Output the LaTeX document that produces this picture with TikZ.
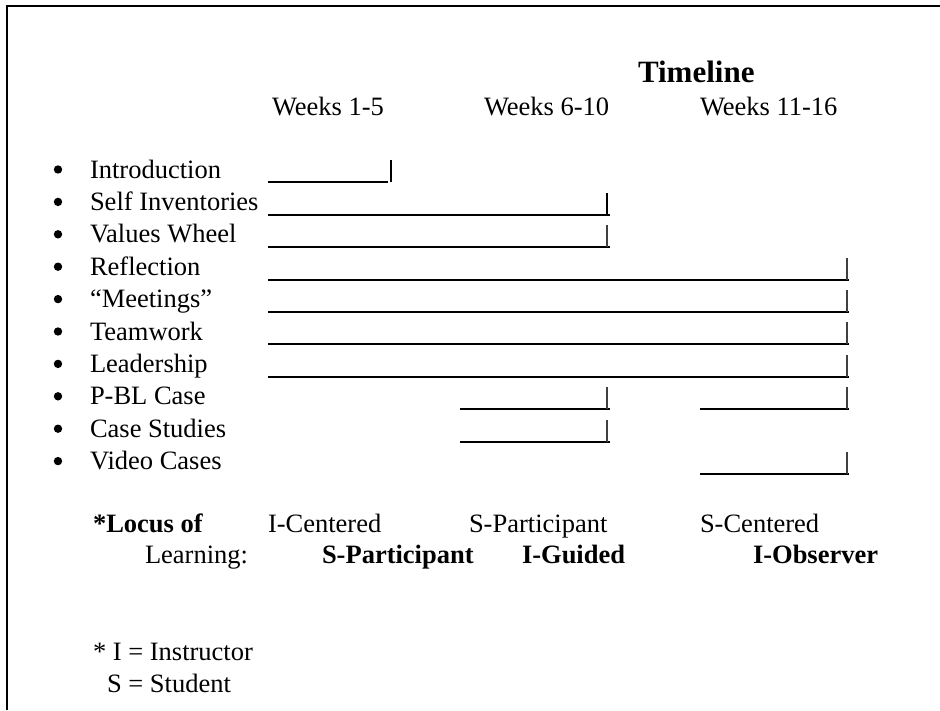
\documentclass[tikz,border=0pt]{standalone}
\usepackage{fontspec}
\setmainfont{Liberation Serif}
\begin{document}
\begin{tikzpicture}[x=1pt,y=-1pt,
  txt/.style={anchor=base west,inner sep=0pt,outer sep=0pt,font=\fontsize{26.5}{30}\selectfont},
  btxt/.style={txt,font=\fontsize{26.5}{30}\selectfont\bfseries},
  ttl/.style={txt,font=\fontsize{31}{36}\selectfont\bfseries},
  bar/.style={line width=2pt},
  thickbar/.style={line width=2pt,black},
  thinbar/.style={line width=1.4pt,black!75},
  frame/.style={line width=2pt}]
\useasboundingbox (0,0) rectangle (940,710);
% frame
\coordinate (f1) at (7,710); \coordinate (f2) at (7,6); \coordinate (f3) at (940,6);
\draw[frame] (f1) -- (f2) -- (f3);
% header
\node[ttl] (title) at (638,82) {Timeline};
\node[txt] (w1) at (272,115) {Weeks 1-5};
\node[txt] (w2) at (484,115) {Weeks 6-10};
\node[txt] (w3) at (700,115) {Weeks 11-16};
% items
\foreach \i/\lab in {0/Introduction,1/Self Inventories,2/Values Wheel,3/Reflection,4/{“Meetings”},5/Teamwork,6/Leadership,7/P-BL Case,8/Case Studies,9/Video Cases}{
  \pgfmathsetmacro{\yb}{178+32.4*\i}
  \node[txt] (item\i) at (90,\yb) {\lab};
  \fill (58,\yb-8.5) circle (4.2);
  \coordinate (a\i) at (268,\yb+4.3);
  \coordinate (b\i) at (460,\yb+4.3);
  \coordinate (c\i) at (700,\yb+4.3);
  \coordinate (e1\i) at (388,\yb+4.3);
  \coordinate (e2\i) at (610,\yb+4.3);
  \coordinate (e3\i) at (849,\yb+4.3);
}
% segments
\draw[bar] (a0) -- (e10);
\draw[thickbar] ([xshift=3pt]e10) -- ++(0,-22);
\draw[bar] (a1) -- (e21);
\draw[thickbar] ([xshift=-3pt]e21) -- ++(0,-22);
\draw[bar] (a2) -- (e22);
\draw[thinbar] ([xshift=-3pt]e22) -- ++(0,-22);
\foreach \i in {3,4,5,6}{
  \draw[bar] (a\i) -- (e3\i);
  \draw[thinbar] ([xshift=-2pt]e3\i) -- ++(0,-22);
}
\draw[bar] (b7) -- (e27);
\draw[thinbar] ([xshift=-3pt]e27) -- ++(0,-22);
\draw[bar] (c7) -- (e37);
\draw[thinbar] ([xshift=-2pt]e37) -- ++(0,-22);
\draw[bar] (b8) -- (e28);
\draw[thinbar] ([xshift=-3pt]e28) -- ++(0,-22);
\draw[bar] (c9) -- (e39);
\draw[thinbar] ([xshift=-2pt]e39) -- ++(0,-22);
% locus of learning
\node[btxt] (locus) at (93,532) {*Locus of};
\node[txt] (icen) at (268,532) {I-Centered};
\node[txt] (spart) at (469,532) {S-Participant};
\node[txt] (scen) at (700,532) {S-Centered};
\node[txt] (learn) at (145,563) {Learning:};
\node[btxt] (spartb) at (322,563) {S-Participant};
\node[btxt] (iguid) at (522,563) {I-Guided};
\node[btxt] (iobs) at (753,563) {I-Observer};
% footnote
\node[txt] (fn1) at (93,660) {* I = Instructor};
\node[txt] (fn2) at (107,692) {S = Student};
\end{tikzpicture}
\end{document}
